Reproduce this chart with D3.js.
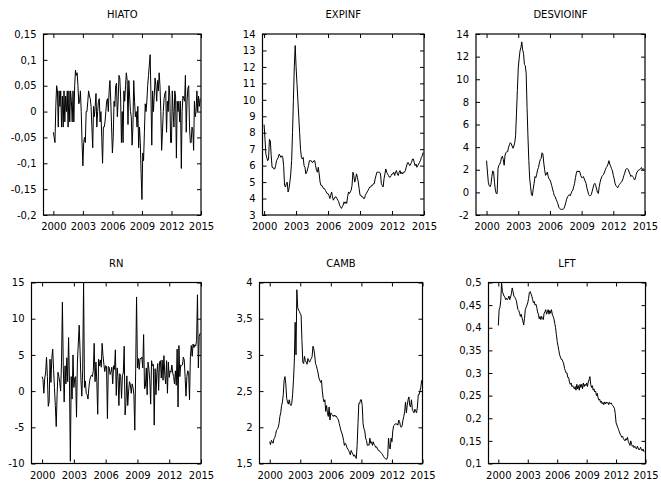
<!DOCTYPE html>
<html><head><meta charset="utf-8">
<script src="https://cdn.jsdelivr.net/npm/d3@7"></script>
<style>
body{margin:0;background:#fff}
text{font-family:"DejaVu Sans",Verdana,sans-serif;font-size:10px;fill:#000}
</style>
</head><body>
<svg id="c" width="661" height="484"></svg>
<script>
// ---- data: monthly observations starting Jan 2000 ----
const startYear = 2000;
const xTickYears = [2000, 2003, 2006, 2009, 2012, 2015];

const hiato = [
-0.04,-0.05,-0.06,0.01,0.05,0.04,-0.03,0.04,0.01,0.04,-0.03,0.03,
-0.03,0.04,-0.02,0.03,0.00,0.04,-0.03,0.04,-0.02,0.04,0.02,-0.02,
0.04,-0.02,0.05,0.08,0.07,0.075,0.05,0.015,0.02,0.04,0.0,-0.06,
-0.105,-0.06,-0.05,-0.06,0.0,0.0,0.02,0.04,0.03,0.025,0.01,-0.03,
-0.07,0.01,-0.01,0.01,0.035,-0.03,0.0,0.02,0.025,-0.02,0.0,-0.05,
-0.1,-0.03,-0.03,-0.02,0.0,0.02,0.025,0.0,0.04,0.06,0.02,-0.03,
-0.08,-0.05,0.02,0.01,0.05,0.055,-0.01,0.02,0.07,0.065,0.03,-0.06,
0.0,-0.06,0.04,0.02,0.05,0.075,0.06,-0.025,0.06,0.03,0.0,-0.01,
-0.065,-0.03,0.06,0.02,-0.01,0.0,-0.03,0.01,-0.07,-0.03,-0.06,-0.12,
-0.17,-0.08,-0.095,-0.04,0.015,0.0,0.02,0.05,0.07,0.09,0.11,0.03,
-0.065,0.04,0.0,0.03,0.065,0.05,0.02,0.06,0.04,0.075,0.05,0.0,
-0.075,-0.04,0.0,0.025,0.035,0.04,-0.04,0.02,0.0,0.05,0.03,-0.06,
-0.06,0.04,0.0,-0.03,0.04,0.03,-0.09,0.02,0.0,0.02,-0.02,0.02,
-0.11,0.0,0.03,0.025,0.02,0.07,-0.04,0.02,0.045,0.05,-0.03,-0.06,
-0.06,-0.03,-0.035,-0.075,0.02,-0.01,0.0,0.04,0.0,0.03,0.01,0.025];

const expinf = [
8.5,7.6,6.7,6.5,6.3,6.4,7.6,7.5,6.6,5.9,5.9,5.8,
5.8,6.0,6.3,6.4,6.5,6.7,6.6,6.5,6.6,6.5,6.0,4.8,
4.7,4.9,5.0,4.4,4.6,5.0,5.5,6.3,8.0,10.0,12.0,13.3,
12.0,11.0,10.0,9.0,8.0,7.0,6.5,6.4,6.5,6.0,5.9,5.5,
5.6,5.8,6.0,6.3,6.3,6.3,6.2,6.2,6.3,6.3,6.0,5.7,
5.6,5.9,5.5,5.0,4.8,4.8,4.7,4.6,4.6,4.5,4.4,4.3,
4.3,4.2,4.0,4.2,4.4,4.1,3.9,4.0,4.1,4.1,4.0,3.9,
3.8,3.6,3.5,3.4,3.5,3.6,3.8,3.7,3.8,3.7,4.1,4.4,
4.3,4.4,4.5,4.8,5.6,5.4,5.0,5.2,5.5,5.3,5.0,4.6,
4.2,4.2,4.1,4.1,4.0,4.0,4.2,4.3,4.4,4.5,4.6,4.7,
4.7,4.8,4.8,4.9,4.9,5.2,5.4,5.6,5.6,5.6,5.6,5.5,
4.9,4.8,4.7,5.2,5.5,5.8,5.6,5.5,5.4,5.3,5.3,5.4,
5.5,5.5,5.6,5.4,5.6,5.7,5.5,5.4,5.6,5.7,5.5,5.6,
5.5,5.6,5.6,5.7,5.9,6.1,6.2,6.1,6.0,6.1,6.2,6.4,
6.4,6.2,6.0,6.1,5.9,6.0,6.1,6.2,6.3,6.5,6.6,6.8];

const desvioinf = [
2.8,1.8,0.9,0.6,0.5,0.7,1.4,1.9,1.8,0.9,0.2,-0.1,
-0.1,2.1,2.4,2.5,2.7,3.1,3.2,2.9,2.4,3.3,3.5,3.6,
3.6,4.0,4.2,4.4,4.3,4.1,3.9,4.1,4.4,5.0,7.0,9.0,
11.0,11.8,12.5,12.8,13.3,12.6,12.3,11.3,11.2,10.5,7.5,5.0,
2.8,1.2,0.5,-0.2,-0.3,0.3,0.8,1.4,1.3,1.6,2.0,2.2,
2.6,2.9,3.0,3.5,3.4,2.6,2.0,1.5,1.6,1.8,1.4,1.2,
1.1,0.9,0.6,0.3,0.0,-0.3,-0.4,-0.6,-0.8,-1.0,-1.3,-1.4,
-1.5,-1.5,-1.5,-1.5,-1.4,-1.2,-0.9,-0.6,-0.4,-0.3,-0.2,-0.3,
-0.1,0.1,0.2,0.5,0.8,1.3,1.7,1.9,1.8,1.9,1.8,1.5,
1.3,1.3,1.4,1.2,1.0,0.8,0.4,0.1,-0.2,-0.3,-0.3,-0.2,
0.1,0.4,0.7,0.8,0.6,0.3,0.0,-0.1,0.5,0.9,1.2,1.4,
1.5,1.6,1.8,2.0,2.2,2.3,2.5,2.8,2.5,2.3,2.1,1.9,
1.5,1.2,0.8,0.6,0.5,0.4,0.6,0.7,0.8,0.9,1.0,1.2,
1.5,1.7,2.0,2.1,2.1,2.0,1.8,1.6,1.4,1.5,1.4,1.3,
1.1,1.2,1.6,1.8,1.9,2.0,2.0,2.1,2.2,2.0,2.1,2.0];

const rn = [
2.0,1.6,-0.3,1.8,2.5,4.7,2.0,-2.1,-1.5,4.4,1.2,4.5,
5.8,3.0,0.5,-2.0,-4.9,-0.5,2.6,2.0,1.2,0.0,4.0,12.3,
3.5,-1.5,3.5,1.0,4.6,1.3,7.4,1.5,-9.7,2.0,-1.1,5.0,
0.5,1.8,2.0,-3.6,4.0,6.5,9.1,5.6,1.5,-0.7,3.0,15.0,
0.5,1.4,-0.3,-0.5,-1.1,0.5,1.5,2.0,2.2,2.0,2.8,6.6,
1.3,4.0,1.3,-3.2,4.4,3.5,4.3,3.3,6.6,4.9,3.7,2.7,
3.5,3.4,-3.8,3.4,3.3,2.3,2.6,3.3,1.0,3.5,3.0,5.7,
-0.6,3.2,2.0,-2.0,2.4,2.0,-1.0,2.2,2.5,6.2,-3.3,-1.6,
2.1,-2.0,0.0,1.3,0.9,-0.3,1.0,0.5,-0.5,-5.4,3.0,13.0,
3.2,4.5,3.0,4.5,4.5,4.7,3.2,7.8,0.3,0.6,3.2,-0.5,
4.0,3.0,1.5,-1.8,4.2,3.5,3.7,-4.7,3.1,-0.5,2.6,3.8,
0.1,4.0,4.2,1.8,4.3,1.5,4.9,2.2,1.0,4.2,-0.3,4.0,
1.9,2.8,2.6,3.6,2.5,2.0,1.0,2.8,0.8,5.8,-2.2,6.3,
2.0,3.6,3.5,3.6,4.7,4.3,2.0,-0.7,2.0,2.8,2.6,-1.2,
4.8,6.3,4.8,6.5,6.0,6.4,6.2,7.0,13.3,3.2,7.5,8.0];

const camb = [
1.80,1.76,1.82,1.80,1.78,1.84,1.86,1.90,1.96,1.97,2.00,2.05,
2.15,2.20,2.30,2.35,2.45,2.65,2.70,2.60,2.40,2.35,2.32,2.38,
2.32,2.30,2.33,2.45,2.65,2.90,3.45,3.00,3.90,3.65,3.62,3.60,
3.57,3.55,3.20,2.90,2.88,2.98,2.92,2.90,2.87,2.95,2.92,2.90,
2.93,2.95,2.98,3.12,3.08,3.00,2.88,2.85,2.80,2.75,2.68,2.65,
2.62,2.65,2.50,2.40,2.35,2.38,2.22,2.30,2.20,2.15,2.28,2.10,
2.20,2.18,2.17,2.15,2.17,2.15,2.16,2.14,2.12,2.10,2.05,2.00,
1.95,1.92,1.88,1.82,1.75,1.78,1.76,1.72,1.70,1.68,1.65,1.62,
1.68,1.65,1.63,1.60,1.62,1.59,1.57,1.75,2.05,2.33,2.33,2.38,
2.38,2.30,2.05,1.98,1.95,1.85,1.82,1.75,1.76,1.75,1.85,1.78,
1.80,1.75,1.80,1.76,1.75,1.72,1.73,1.70,1.68,1.68,1.66,1.65,
1.64,1.62,1.60,1.58,1.57,1.56,1.56,1.60,1.85,1.72,1.70,1.85,
1.80,1.95,2.02,2.03,2.05,2.04,2.05,2.03,2.10,2.08,2.02,2.00,
2.02,2.10,2.15,2.22,2.35,2.20,2.30,2.38,2.42,2.30,2.28,2.38,
2.25,2.22,2.20,2.25,2.22,2.20,2.28,2.45,2.45,2.50,2.55,2.65];

const lft = [
0.405,0.44,0.445,0.46,0.50,0.48,0.475,0.47,0.468,0.462,0.465,0.462,
0.465,0.47,0.462,0.468,0.475,0.488,0.48,0.47,0.468,0.465,0.46,0.45,
0.44,0.438,0.432,0.425,0.43,0.422,0.415,0.406,0.42,0.44,0.445,0.45,
0.455,0.465,0.478,0.48,0.475,0.47,0.462,0.455,0.458,0.45,0.452,0.445,
0.435,0.43,0.42,0.425,0.418,0.425,0.42,0.418,0.432,0.435,0.44,0.43,
0.435,0.44,0.43,0.438,0.432,0.44,0.43,0.425,0.42,0.41,0.40,0.385,
0.37,0.36,0.35,0.34,0.335,0.33,0.33,0.325,0.32,0.31,0.305,0.30,
0.30,0.29,0.29,0.28,0.275,0.278,0.27,0.272,0.268,0.265,0.27,0.262,
0.275,0.265,0.272,0.262,0.275,0.268,0.275,0.265,0.278,0.27,0.275,0.272,
0.278,0.27,0.28,0.285,0.292,0.275,0.268,0.272,0.262,0.265,0.258,0.26,
0.25,0.255,0.245,0.24,0.242,0.235,0.238,0.232,0.235,0.23,0.236,0.232,
0.236,0.233,0.235,0.23,0.235,0.232,0.234,0.23,0.228,0.225,0.222,0.21,
0.19,0.185,0.18,0.175,0.17,0.165,0.162,0.158,0.16,0.155,0.152,0.15,
0.155,0.152,0.158,0.148,0.145,0.14,0.15,0.142,0.138,0.14,0.135,0.138,
0.135,0.132,0.138,0.134,0.13,0.132,0.136,0.13,0.128,0.132,0.127,0.125];

// y tick values per panel
const hiatoTicks = [-0.2,-0.15,-0.1,-0.05,0,0.05,0.1,0.15];
const expinfTicks = [3,4,5,6,7,8,9,10,11,12,13,14];
const desvioTicks = [-2,0,2,4,6,8,10,12,14];
const rnTicks = [-10,-5,0,5,10,15];
const cambTicks = [1.5,2,2.5,3,3.5,4];
const lftTicks = [0.1,0.15,0.2,0.25,0.3,0.35,0.4,0.45,0.5];

// ---- layout ----
const panels = [
  {title:"HIATO",     values:hiato,     ticks:hiatoTicks,  x0:1999,    box:{l:43.5, r:201,   t:34,  b:215}},
  {title:"EXPINF",    values:expinf,    ticks:expinfTicks, x0:1999.85, box:{l:262.5,r:424,   t:34,  b:215}},
  {title:"DESVIOINF", values:desvioinf, ticks:desvioTicks, x0:1999,    box:{l:476,  r:645,   t:34,  b:215}},
  {title:"RN",        values:rn,        ticks:rnTicks,     x0:1999,    box:{l:31.5, r:201,   t:282.5,b:463.5}},
  {title:"CAMB",      values:camb,      ticks:cambTicks,   x0:1999,    box:{l:259.5,r:422.5, t:282.5,b:463.5}},
  {title:"LFT",       values:lft,       ticks:lftTicks,    x0:1999,    box:{l:488.5,r:645.5, t:282.5,b:463.5}}
];

const loc = d3.formatLocale({decimal:",", thousands:".", grouping:[3], currency:["",""], minus:"-"});
const fmt = loc.format(".2~f");

const svg = d3.select("#c");
const TL = 4;

panels.forEach((p, k) => {
  const b = p.box;
  const x = d3.scaleLinear().domain([p.x0, 2015]).range([b.l, b.r]);
  const y = d3.scaleLinear().domain([p.ticks[0], p.ticks[p.ticks.length-1]]).range([b.b, b.t]);
  const g = svg.append("g");

  const clipId = "clip" + k;
  g.append("clipPath").attr("id", clipId).append("rect")
    .attr("x", b.l).attr("y", b.t).attr("width", b.r - b.l).attr("height", b.b - b.t);

  const yl = g.append("g").attr("transform", `translate(${b.l},0)`)
    .call(d3.axisLeft(y).tickValues(p.ticks).tickSize(-TL).tickPadding(7).tickFormat(fmt));
  const yr = g.append("g").attr("transform", `translate(${b.r},0)`)
    .call(d3.axisRight(y).tickValues(p.ticks).tickSize(-TL).tickFormat(""));
  const xb = g.append("g").attr("transform", `translate(0,${b.b})`)
    .call(d3.axisBottom(x).tickValues(xTickYears).tickSize(-TL).tickPadding(8).tickFormat(d3.format("d")));
  const xt = g.append("g").attr("transform", `translate(0,${b.t})`)
    .call(d3.axisTop(x).tickValues(xTickYears).tickSize(-TL).tickFormat(""));
  [yl, yr, xb, xt].forEach(a => {
    a.select(".domain").remove();
    a.selectAll("line").attr("stroke", "#000").attr("stroke-width", 1);
    a.selectAll("text").attr("fill", "#000").style("font-family", '"DejaVu Sans",Verdana,sans-serif').style("font-size", "10px");
  });

  const line = d3.line()
    .x((d, i) => x(startYear + i / 12))
    .y(d => y(d));
  g.append("path").datum(p.values)
    .attr("clip-path", `url(#${clipId})`)
    .attr("fill", "none").attr("stroke", "#000").attr("stroke-width", 1)
    .attr("stroke-linejoin", "round")
    .attr("d", line);

  g.append("rect").attr("x", b.l).attr("y", b.t)
    .attr("width", b.r - b.l).attr("height", b.b - b.t)
    .attr("fill", "none").attr("stroke", "#000").attr("stroke-width", 1.2);

  g.append("text").attr("x", (b.l + b.r) / 2).attr("y", b.t - 16)
    .attr("text-anchor", "middle").text(p.title);
});
</script>
</body></html>
